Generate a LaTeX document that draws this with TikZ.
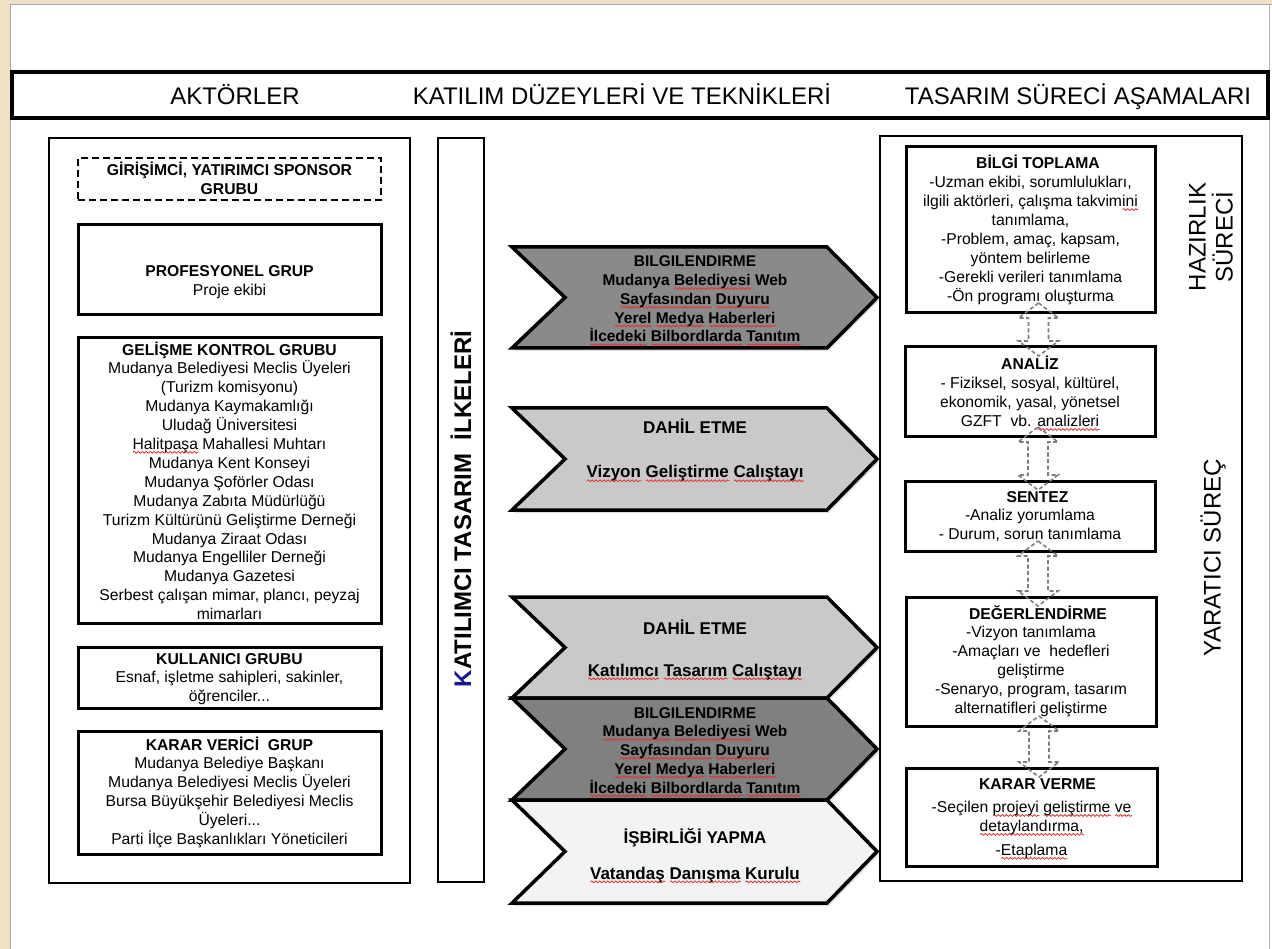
\documentclass[tikz,border=0pt]{standalone}
\usepackage{fontspec}
\setmainfont{Liberation Sans}
\usetikzlibrary{calc,shadows,decorations.pathmorphing}
\definecolor{beige}{RGB}{240,224,198}
\definecolor{darkchev}{RGB}{138,138,138}
\definecolor{darkchevb}{RGB}{128,128,128}
\definecolor{lightchev}{RGB}{201,201,201}
\definecolor{palechev}{RGB}{243,243,243}
\definecolor{kblue}{RGB}{25,25,140}
\definecolor{arrgray}{RGB}{125,125,125}
\definecolor{spellred}{RGB}{232,45,45}
\newlength\sqlen
\newcommand{\sq}[1]{\settowidth{\sqlen}{#1}\rlap{\tikz[baseline=0pt,x=1pt,y=1pt]{\draw[spellred,line width=0.8pt,decorate,decoration={snake,amplitude=0.9pt,segment length=4pt}] (0,-2.8) -- (\sqlen,-2.8);}}#1}
\tikzset{
  bx/.style={draw=black, line width=3pt, inner sep=0pt, outer sep=0pt, fill=white},
  outerbx/.style={draw=black, line width=2.6pt, inner sep=0pt, outer sep=0pt},
  txt/.style={align=center, inner sep=0pt, anchor=base, font=\fontsize{15.7}{18.9}\selectfont},
  ttl/.style={align=center, inner sep=0pt, anchor=base, font=\bfseries\fontsize{15.7}{18.9}\selectfont},
  chevtxt/.style={align=center, inner sep=0pt, anchor=base, font=\bfseries\fontsize{15.5}{18.75}\selectfont},
  chevtxtb/.style={align=center, inner sep=0pt, anchor=base, font=\bfseries\fontsize{17}{20}\selectfont},
  chev/.style={draw=black, line width=3.5pt, line join=miter,
    drop shadow={shadow xshift=2pt, shadow yshift=-3pt, opacity=0.25}},
  dbl/.style={draw=arrgray, line width=1.6pt, dash pattern=on 4pt off 2.5pt},
  hdr/.style={inner sep=0pt, anchor=base, font=\fontsize{24}{28}\selectfont},
}
\newcommand{\chevpath}[3]{%
  \path[chev, fill=#3] (512,#1) -- (827,#1) -- (877,{(#1+#2)/2}) -- (827,#2) -- (512,#2) -- (565,{(#1+#2)/2}) -- cycle;}
\newcommand{\udarrow}[2]{%
  \draw[dbl] let \p1=([xshift=8pt,yshift=10pt]#1.south), \p2=([xshift=8pt,yshift=-9pt]#2.north) in
  (\x1,\y1) -- (\x1+20pt,\y1-15pt) -- (\x1+10pt,\y1-15pt) -- (\x1+10pt,\y2+15pt) -- (\x1+20pt,\y2+15pt) -- (\x1,\y2)
  -- (\x1-20pt,\y2+15pt) -- (\x1-10pt,\y2+15pt) -- (\x1-10pt,\y1-15pt) -- (\x1-20pt,\y1-15pt) -- cycle;}
\begin{document}
\begin{tikzpicture}[x=1pt,y=-1pt]
\useasboundingbox (0,0) rectangle (1272,949);
% page
\fill[beige] (0,0) rectangle (1272,949);
\fill[white] (10,5) rectangle (1272,949);
\draw[black!35, line width=1pt] (10,949) -- (10,5) -- (1272,5);
\draw[black!30, line width=1pt] (1269.5,5) -- (1269.5,949);

% header bar
\node[draw=black, line width=4.5pt, fill=white, minimum width=1256pt, minimum height=46pt, inner sep=0pt,
  drop shadow={shadow xshift=0pt, shadow yshift=2pt, opacity=0.2}] (bar) at (640,95) {};
\node[hdr] (h1) at (235,104.6) {AKTÖRLER};
\node[hdr] (h2) at (622,104.6) {KATILIM DÜZEYLERİ VE TEKNİKLERİ};
\node[hdr] (h3) at (1078,104.6) {TASARIM SÜRECİ AŞAMALARI};

% left column (text nodes anchored at the baseline of their last line)
\node[outerbx, minimum width=361pt, minimum height=745pt] (left) at (229.5,510.5) {};
\node[bx, dashed, dash pattern=on 7pt off 4pt, line width=2.6pt, minimum width=303pt, minimum height=42pt] (gir) at (229.5,179) {};
\node[ttl] (girt) at (229.5,194.9) {GİRİŞİMCİ, YATIRIMCI SPONSOR\\GRUBU};
\node[bx, minimum width=303pt, minimum height=90pt] (prof) at (229.5,270) {};
\node[txt] (proft) at (229.5,295.9) {\textbf{PROFESYONEL GRUP}\\Proje ekibi};
\node[bx, minimum width=303pt, minimum height=285pt] (gel) at (229.5,480.5) {};
\node[txt] (gelt) at (229.5,619.6) {\textbf{GELİŞME KONTROL GRUBU}\\Mudanya Belediyesi Meclis Üyeleri\\(Turizm komisyonu)\\Mudanya Kaymakamlığı\\Uludağ Üniversitesi\\\sq{Halitpaşa} Mahallesi Muhtarı\\Mudanya Kent Konseyi\\Mudanya Şoförler Odası\\Mudanya Zabıta Müdürlüğü\\Turizm Kültürünü Geliştirme Derneği\\Mudanya Ziraat Odası\\Mudanya Engelliler Derneği\\Mudanya Gazetesi\\Serbest çalışan mimar, plancı, peyzaj\\mimarları};
\node[bx, minimum width=303pt, minimum height=61pt] (kul) at (229.5,677.5) {};
\node[txt] (kult) at (229.5,701.8) {\textbf{KULLANICI GRUBU}\\Esnaf, işletme sahipleri, sakinler,\\öğrenciler...};
\node[bx, minimum width=303pt, minimum height=123pt] (kar) at (229.5,792.5) {};
\node[txt] (kart) at (229.5,844.5) {\textbf{KARAR VERİCİ\ \ GRUP}\\Mudanya Belediye Başkanı\\Mudanya Belediyesi Meclis Üyeleri\\Bursa Büyükşehir Belediyesi Meclis\\Üyeleri...\\Parti İlçe Başkanlıkları Yöneticileri};

% vertical principles box
\node[outerbx, minimum width=46pt, minimum height=744pt] (ilk) at (461,510) {};
\node[rotate=90, inner sep=0pt, font=\bfseries\fontsize{24}{28}\selectfont] (ilkt) at (461,509) {\textcolor{kblue}{K}ATILIMCI TASARIM\ \ İLKELERİ};

% chevrons
\chevpath{247}{348}{darkchev}
\node[chevtxt] (c1) at (695,342) {BILGILENDIRME\\Mudanya \sq{Belediyesi} Web\\\sq{Sayfasından} \sq{Duyuru}\\\sq{Yerel} \sq{Medya} \sq{Haberleri}\\\sq{İlcedeki} \sq{Bilbordlarda} \sq{Tanıtım}};
\chevpath{408}{510}{lightchev}
\node[chevtxtb] (c2) at (695,478) {DAHİL ETME\\[24pt]\sq{Vizyon} \sq{Geliştirme} \sq{Calıştayı}};
\chevpath{597}{698}{lightchev}
\node[chevtxtb] (c3) at (695,676) {DAHİL ETME\\[22pt]\sq{Katılımcı} \sq{Tasarım} \sq{Calıştayı}};
\chevpath{698}{800}{darkchevb}
\node[chevtxt] (c4) at (695,793) {BILGILENDIRME\\\sq{Mudanya} \sq{Belediyesi} Web\\\sq{Sayfasından} \sq{Duyuru}\\\sq{Yerel} \sq{Medya} \sq{Haberleri}\\\sq{İlcedeki} \sq{Bilbordlarda} \sq{Tanıtım}};
\chevpath{800}{903}{palechev}
\node[chevtxtb] (c5) at (695,879) {İŞBİRLİĞİ YAPMA\\[16pt]\sq{Vatandaş} \sq{Danışma} \sq{Kurulu}};

% right column
\node[outerbx, minimum width=362pt, minimum height=745pt] (right) at (1061,508.5) {};
\node[bx, minimum width=249pt, minimum height=166pt] (bil) at (1030.5,230) {};
\node[txt] (bilt) at (1030.5,301.3) {\hspace*{15pt}\textbf{BİLGİ TOPLAMA}\\-Uzman ekibi, sorumlulukları,\\ilgili aktörleri, çalışma takvim\sq{ini}\\tanımlama,\\-Problem, amaç, kapsam,\\yöntem belirleme\\-Gerekli verileri tanımlama\\-Ön programı oluşturma};
\node[bx, minimum width=250pt, minimum height=90pt] (ana) at (1030,392) {};
\node[txt] (anat) at (1030,426.7) {\textbf{ANALİZ}\\- Fiziksel, sosyal, kültürel,\\ekonomik, yasal, yönetsel\\GZFT\ \ vb. \sq{analizleri}};
\node[bx, minimum width=250pt, minimum height=70pt] (sen) at (1030,516) {};
\node[txt] (sent) at (1030,539.8) {\hspace*{15pt}\textbf{SENTEZ}\\-Analiz yorumlama\\- Durum, sorun tanımlama};
\node[bx, minimum width=250pt, minimum height=129pt] (deg) at (1031,661.5) {};
\node[txt] (degt) at (1031,713.5) {\hspace*{14pt}\textbf{DEĞERLENDİRME}\\-Vizyon tanımlama\\-Amaçları ve\ \ hedefleri\\geliştirme\\-Senaryo, program, tasarım\\alternatifleri geliştirme};
\node[bx, minimum width=251pt, minimum height=98pt] (kv) at (1031.5,817) {};
\node[txt] (kvt) at (1031.5,855.5) {\hspace*{12pt}\textbf{KARAR VERME}\\[4pt]-Seçilen \sq{projeyi} \sq{geliştirme} \sq{ve}\\\sq{detaylandırma,}\\[5pt]-\sq{Etaplama}};

\udarrow{bil}{ana}
\udarrow{ana}{sen}
\udarrow{sen}{deg}
\udarrow{deg}{kv}

\node[rotate=90, align=center, inner sep=0pt, font=\fontsize{24}{27}\selectfont] (hz) at (1211,237) {HAZIRLIK\\SÜRECİ};
\node[rotate=90, inner sep=0pt, font=\fontsize{24}{28}\selectfont] (yr) at (1213,558) {YARATICI SÜREÇ};
\end{tikzpicture}
\end{document}
